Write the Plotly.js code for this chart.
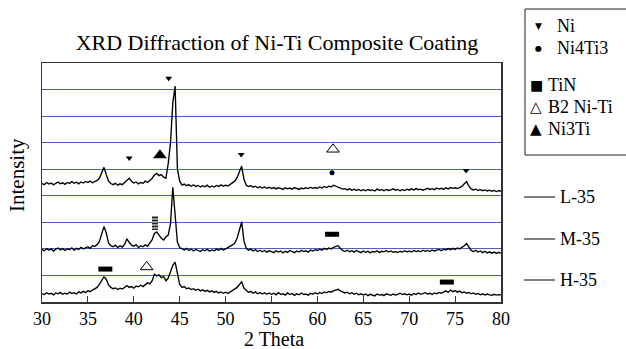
<!DOCTYPE html>
<html>
<head>
<meta charset="utf-8">
<script src="https://cdn.plot.ly/plotly-3.0.1.min.js"></script>
<style>html,body{margin:0;padding:0;background:#fff;}#chart{width:626px;height:349px;}</style>
</head>
<body>
<div id="chart"></div>
<script>
// 2-theta sampling: start and step (degrees)
const thetaStart = 30;
const thetaStep = 0.25;

// Intensity (stacked, arbitrary units; one grid step = 1)
const h35 = [
  0.32,0.28,0.35,0.30,0.33,0.27,0.34,0.31,0.36,0.29,0.33,0.30,0.37,0.32,0.35,0.30,0.38,0.34,0.40,0.36,
  0.42,0.39,0.45,0.50,0.55,0.66,0.80,0.95,0.86,0.64,0.55,0.50,0.53,0.47,0.52,0.49,0.55,0.62,0.55,0.58,
  0.52,0.60,0.57,0.63,0.58,0.66,0.72,0.68,0.80,1.05,0.98,1.02,0.92,0.96,0.80,0.90,1.15,1.38,1.50,1.02,
  0.66,0.55,0.58,0.50,0.53,0.47,0.50,0.44,0.48,0.42,0.46,0.40,0.44,0.38,0.42,0.36,0.40,0.34,0.38,0.33,
  0.37,0.32,0.38,0.42,0.48,0.55,0.66,0.76,0.52,0.42,0.36,0.40,0.33,0.38,0.31,0.36,0.30,0.35,0.29,0.34,
  0.28,0.33,0.27,0.35,0.29,0.31,0.26,0.34,0.28,0.32,0.25,0.31,0.27,0.34,0.28,0.30,0.26,0.33,0.29,0.35,
  0.30,0.36,0.32,0.38,0.35,0.40,0.37,0.42,0.45,0.48,0.42,0.38,0.34,0.37,0.31,0.35,0.29,0.33,0.27,0.31,
  0.26,0.30,0.24,0.29,0.27,0.23,0.30,0.26,0.28,0.24,0.31,0.27,0.25,0.30,0.26,0.29,0.33,0.28,0.31,0.27,
  0.30,0.26,0.32,0.28,0.34,0.29,0.31,0.35,0.30,0.33,0.28,0.34,0.31,0.36,0.33,0.38,0.42,0.36,0.45,0.39,
  0.43,0.37,0.41,0.35,0.38,0.33,0.36,0.31,0.34,0.29,0.32,0.27,0.31,0.26,0.30,0.27,0.25,0.29,0.26,0.28,0.27
];
const m35 = [
  1.98,1.93,2.01,1.95,2.00,1.92,1.99,2.03,1.96,2.01,1.94,2.00,1.97,2.04,1.95,2.02,1.98,2.06,2.00,2.04,
  2.08,2.02,2.12,2.10,2.16,2.28,2.55,2.84,2.60,2.22,2.12,2.08,2.14,2.05,2.12,2.07,2.18,2.38,2.25,2.14,
  2.10,2.16,2.05,2.12,2.08,2.15,2.10,2.22,2.35,2.58,2.64,2.52,2.40,2.33,2.46,2.52,2.95,4.32,3.30,2.25,
  2.05,2.00,1.96,2.02,1.94,1.99,1.92,1.98,1.95,1.90,1.97,1.93,1.99,1.91,1.96,1.93,1.99,1.95,2.02,1.96,
  2.00,2.04,2.08,2.15,2.22,2.40,2.70,3.02,2.30,2.02,1.95,1.99,1.92,1.97,1.90,1.95,1.89,1.94,1.88,1.93,
  1.90,1.86,1.93,1.88,1.92,1.85,1.91,1.87,1.94,1.89,1.86,1.92,1.88,1.95,1.90,1.93,1.88,1.96,1.92,1.97,
  1.94,1.99,1.95,2.02,1.98,2.03,2.00,2.06,2.08,2.12,2.02,1.94,1.90,1.95,1.89,1.93,1.88,1.94,1.90,1.86,
  1.92,1.87,1.91,1.85,1.90,1.88,1.93,1.86,1.91,1.89,1.94,1.88,1.92,1.87,1.90,1.86,1.91,1.88,1.93,1.89,
  1.92,1.88,1.94,1.90,1.93,1.89,1.95,1.91,1.94,1.90,1.96,1.92,1.95,1.98,1.93,1.99,1.96,2.01,1.97,2.02,
  1.98,2.03,2.00,2.05,2.12,2.20,2.05,1.94,1.90,1.95,1.88,1.92,1.86,1.91,1.85,1.89,1.84,1.88,1.83,1.87,1.84
];
const l35 = [
  4.46,4.42,4.50,4.44,4.48,4.41,4.47,4.52,4.45,4.49,4.43,4.50,4.46,4.53,4.47,4.51,4.45,4.52,4.48,4.54,
  4.50,4.55,4.49,4.53,4.58,4.66,4.88,5.07,4.80,4.55,4.46,4.42,4.47,4.40,4.45,4.42,4.50,4.58,4.66,4.55,
  4.48,4.52,4.45,4.50,4.47,4.55,4.50,4.58,4.66,4.78,4.84,4.76,4.80,4.70,4.66,5.22,6.00,7.50,8.13,5.00,
  4.55,4.40,4.44,4.38,4.42,4.36,4.41,4.35,4.39,4.33,4.38,4.34,4.40,4.32,4.37,4.33,4.39,4.35,4.41,4.36,
  4.40,4.37,4.43,4.48,4.55,4.68,4.90,5.12,4.62,4.40,4.35,4.38,4.32,4.36,4.30,4.34,4.29,4.33,4.28,4.32,
  4.27,4.31,4.26,4.30,4.28,4.24,4.30,4.26,4.29,4.25,4.31,4.27,4.24,4.29,4.26,4.30,4.27,4.32,4.28,4.31,
  4.28,4.33,4.29,4.35,4.31,4.36,4.33,4.40,4.36,4.33,4.28,4.25,4.27,4.22,4.26,4.21,4.25,4.20,4.24,4.19,
  4.23,4.19,4.24,4.20,4.22,4.18,4.25,4.21,4.23,4.19,4.24,4.20,4.22,4.26,4.21,4.24,4.19,4.23,4.20,4.25,
  4.21,4.26,4.22,4.27,4.23,4.25,4.21,4.26,4.28,4.24,4.27,4.23,4.29,4.25,4.28,4.24,4.30,4.26,4.31,4.28,
  4.30,4.27,4.32,4.35,4.45,4.53,4.36,4.26,4.22,4.25,4.20,4.23,4.19,4.22,4.18,4.21,4.17,4.20,4.16,4.19,4.18
];

// Phase markers (2-theta, stacked intensity)
const niX = [43.8, 39.5, 51.7, 76.2];
const niY = [8.43, 5.42, 5.55, 4.95];
const ni4ti3X = [61.6];
const ni4ti3Y = [4.87];
const tinX = [36.9, 61.6, 74.1];
const tinY = [1.24, 2.55, 0.75];
const b2X = [61.7, 41.4];
const b2Y = [5.75, 1.32];
const ni3tiX = [42.85];
const ni3tiY = [5.53];
const hatchX = [42.3];
const hatchY = [2.97];

const tickVals = [30, 35, 40, 45, 50, 55, 60, 65, 70, 75, 80];
const sampleNames = ["L-35", "M-35", "H-35"];
const phaseNames = ["Ni", "Ni4Ti3", "TiN", "B2 Ni-Ti", "Ni3Ti"];

const serif = "Liberation Serif";

function spectrum(y, name) {
  return {
    type: "scatter", mode: "lines", name: name,
    x0: thetaStart, dx: thetaStep, y: y,
    line: {color: "#000", width: 1.35}, hoverinfo: "skip", showlegend: false
  };
}
function markers(x, y, symbol, size, extra) {
  return Object.assign({
    type: "scatter", mode: "markers", x: x, y: y, showlegend: false, hoverinfo: "skip",
    marker: {symbol: symbol, size: size, color: "#000", line: {width: 0}}
  }, extra || {});
}

const data = [
  spectrum(h35, sampleNames[2]),
  spectrum(m35, sampleNames[1]),
  spectrum(l35, sampleNames[0]),
  markers(niX, niY, "triangle-down", 6),
  markers(ni4ti3X, ni4ti3Y, "circle", 5),
  markers(ni3tiX, ni3tiY, "triangle-up", 12),
  markers(b2X, b2Y, "triangle-up-open", 11, {marker: {symbol: "triangle-up-open", size: 11, color: "#000", line: {width: 1, color: "#000"}}}),
  markers(tinX, tinY, "line-ew", 10, {marker: {symbol: "line-ew", size: 10, color: "#000", line: {width: 5, color: "#000"}}}),
  {
    type: "bar", x: hatchX, y: [0.52], base: hatchY.map(v => v - 0.26), width: 0.6,
    showlegend: false, hoverinfo: "skip",
    marker: {color: "#fff", line: {width: 0},
      pattern: {shape: "-", fgcolor: "#222", bgcolor: "#bbb", size: 3, solidity: 0.5}}
  }
];

// helpers to convert pixel positions to paper coords (plot area 42..501 x, 63..302 y)
const L = 42, R = 501, T = 63, B = 302;
const px = v => (v - L) / (R - L);
const py = v => (B - v) / (B - T);

const annotations = [];
const shapes = [];

// axis titles
annotations.push({xref: "paper", yref: "paper", x: px(274), y: py(339), text: "2 Theta", borderpad: 0,
  showarrow: false, xanchor: "center", yanchor: "middle", font: {family: serif, size: 20, color: "#000"}});
annotations.push({xref: "paper", yref: "paper", x: px(17), y: py(175), text: "Intensity", textangle: -90,
  showarrow: false, xanchor: "center", yanchor: "middle", font: {family: serif, size: 21, color: "#000"}});

// sample labels on the right
const sampleLabelY = [197, 239, 280];
sampleNames.forEach((n, i) => {
  shapes.push({type: "line", xref: "paper", yref: "paper", x0: px(524), x1: px(555),
    y0: py(sampleLabelY[i]), y1: py(sampleLabelY[i]), line: {color: "#000", width: 1}});
  annotations.push({xref: "paper", yref: "paper", x: px(558), y: py(sampleLabelY[i]), text: n,
    showarrow: false, xanchor: "left", yanchor: "middle", font: {family: serif, size: 18, color: "#000"}});
});

// phase legend box
shapes.push({type: "rect", xref: "paper", yref: "paper", x0: px(525), x1: px(640), y0: py(155), y1: py(9),
  line: {color: "#222", width: 1}, fillcolor: "rgba(0,0,0,0)"});
const legGlyph = ["\u25BC", "\u25CF", "\u25A0", "\u25B3", "\u25B2"];
const legGlyphSize = [9, 8, 14, 15, 15];
const legGlyphX = [538, 538, 536, 536, 536];
const legTextX = [555, 555, 546, 546, 546];
const legY = [26, 48, 85, 107, 129];
phaseNames.forEach((n, i) => {
  annotations.push({xref: "paper", yref: "paper", x: px(legGlyphX[i]), y: py(legY[i]), text: legGlyph[i],
    showarrow: false, xanchor: "center", yanchor: "middle",
    font: {family: "DejaVu Sans", size: legGlyphSize[i], color: "#000"}});
  annotations.push({xref: "paper", yref: "paper", x: px(legTextX[i]), y: py(legY[i]), text: n,
    showarrow: false, xanchor: "left", yanchor: "middle", font: {family: serif, size: 18, color: "#000"}});
});

const layout = {
  width: 626, height: 349,
  margin: {l: L, r: 626 - R, t: T, b: 349 - B, pad: 0},
  paper_bgcolor: "#fff", plot_bgcolor: "#fff",
  showlegend: false,
  font: {family: serif, color: "#000"},
  title: {text: "XRD Diffraction of Ni-Ti Composite Coating", font: {family: serif, size: 22, color: "#000"},
    xref: "paper", x: px(277), xanchor: "center", yref: "container", y: 1 - 42 / 349, yanchor: "middle"},
  xaxis: {range: [30, 80], tickvals: tickVals, ticktext: tickVals.map(String), ticks: "inside", ticklen: 6,
    tickcolor: "#333", tickwidth: 1, showgrid: false, zeroline: false, showline: true, mirror: true,
    linecolor: "#333", linewidth: 1.5, tickfont: {family: serif, size: 18, color: "#000"}, fixedrange: true},
  yaxis: {range: [0, 9], dtick: 1, tick0: 0, showticklabels: false, ticks: "", showgrid: true,
    gridcolor: "#4a60c4", gridwidth: 1, zeroline: false, showline: true, mirror: true,
    linecolor: "#333", linewidth: 1.5, fixedrange: true},
  bargap: 0,
  annotations: annotations,
  shapes: shapes
};

Plotly.newPlot("chart", data, layout, {displayModeBar: false, staticPlot: true});
</script>
</body>
</html>
